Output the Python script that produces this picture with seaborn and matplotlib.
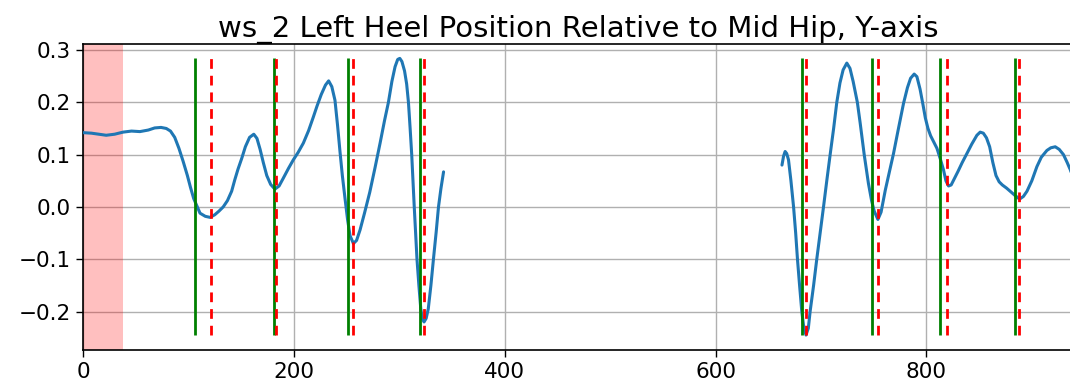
import numpy as np
import pandas as pd
import matplotlib
matplotlib.use("Agg")
import matplotlib.pyplot as plt
import seaborn as sns

# Left heel Y position relative to mid hip, two tracked stretches of frames
frames_a = [0, 8, 15, 22, 30, 38, 46, 54, 62, 68, 74, 79, 83, 87, 91, 95, 99, 102,
            105, 108, 111, 116, 120.5, 125, 129, 133, 137, 141, 144, 147, 150.6,
            154, 158, 162, 165, 168, 171, 174.3, 178, 182, 186, 190, 195, 199.5,
            204, 209, 214, 218.5, 222, 226, 230, 233, 236, 239, 241.5, 243.8, 246,
            248.6, 251, 253.3, 256.5, 259.5, 262.8, 267, 272, 277, 281.8, 286,
            289.7, 293, 296, 298.5, 300.5, 302.5, 305, 307, 308.7, 310.3, 311.8,
            313, 314.2, 315.5, 316.8, 318.6, 320.4, 322, 323.5, 325.5, 327.5, 330,
            332.4, 335, 337.2, 339.5, 342]
heel_a = [0.142, 0.141, 0.139, 0.137, 0.139, 0.143, 0.145, 0.144, 0.147, 0.151,
          0.152, 0.150, 0.145, 0.133, 0.112, 0.087, 0.060, 0.037, 0.016, 0.002,
          -0.012, -0.018, -0.020, -0.015, -0.008, 0.000, 0.012, 0.030, 0.052,
          0.072, 0.093, 0.115, 0.133, 0.139, 0.131, 0.110, 0.085, 0.060, 0.043,
          0.034, 0.040, 0.055, 0.074, 0.090, 0.104, 0.122, 0.146, 0.172, 0.193,
          0.215, 0.233, 0.241, 0.230, 0.204, 0.155, 0.105, 0.060, 0.015, -0.025,
          -0.055, -0.070, -0.064, -0.044, -0.012, 0.028, 0.075, 0.122, 0.165,
          0.200, 0.240, 0.268, 0.282, 0.284, 0.278, 0.260, 0.235, 0.200, 0.150,
          0.100, 0.050, 0.000, -0.050, -0.100, -0.150, -0.195, -0.215, -0.220,
          -0.213, -0.195, -0.150, -0.100, -0.048, 0.000, 0.035, 0.067]

frames_b = [663, 664.5, 666, 667.5, 669.2, 671.5, 674, 676, 677.7, 679.7, 681.8,
            683.8, 685.8, 688, 689.7, 693, 696, 699.2, 702.4, 705.5, 708.7, 712,
            715, 718, 721, 724.5, 727.5, 730.5, 734.5, 737.2, 741, 745, 748, 750.5,
            754, 757, 761, 765, 768.8, 773, 778.3, 782, 785, 788.4, 791, 794,
            796.8, 799, 801.5, 804, 807, 810, 813, 816.2, 818.5, 821, 823.5, 826,
            830, 834, 838.4, 843, 847.9, 851, 854, 857, 860, 863, 866, 869, 872,
            876, 880, 884, 888.4, 892, 895.4, 900, 904.8, 909, 914.3, 918, 922.2,
            926, 930, 933.5, 936.5, 940]
heel_b = [0.080, 0.097, 0.106, 0.102, 0.090, 0.050, 0.000, -0.050, -0.100, -0.150,
          -0.200, -0.232, -0.245, -0.232, -0.200, -0.150, -0.100, -0.050, 0.000,
          0.050, 0.100, 0.150, 0.200, 0.237, 0.262, 0.275, 0.265, 0.240, 0.200,
          0.160, 0.100, 0.045, 0.012, -0.008, -0.024, -0.010, 0.032, 0.068, 0.102,
          0.145, 0.198, 0.228, 0.246, 0.254, 0.249, 0.225, 0.195, 0.170, 0.150,
          0.136, 0.124, 0.112, 0.093, 0.071, 0.050, 0.040, 0.042, 0.052, 0.068,
          0.085, 0.102, 0.120, 0.137, 0.143, 0.141, 0.132, 0.115, 0.085, 0.060,
          0.048, 0.042, 0.036, 0.029, 0.022, 0.015, 0.020, 0.030, 0.050, 0.077,
          0.095, 0.108, 0.113, 0.115, 0.110, 0.100, 0.085, 0.071, 0.050]

# Gait events
heel_strikes = [106, 181, 251, 320, 682, 748, 813, 884]
toe_offs = [121, 183, 256, 323, 686, 754, 820, 888]

# Initial excluded window
excluded = (0, 37.5)

x_ticks = [0, 200, 400, 600, 800]
y_ticks = [-0.2, -0.1, 0.0, 0.1, 0.2, 0.3]
title = "ws_2 Left Heel Position Relative to Mid Hip, Y-axis"

sns.set_style("ticks")
plt.rcParams["font.family"] = ["DejaVu Sans"]
plt.rcParams["text.color"] = "black"
plt.rcParams["xtick.color"] = "black"
plt.rcParams["ytick.color"] = "black"

fig = plt.figure(figsize=(10.7, 3.91), dpi=100)
ax = fig.add_axes([83 / 1070, 41 / 391, 991 / 1070, 306 / 391])

ax.axvspan(*excluded, color="red", alpha=0.25, lw=0, zorder=1)

df_a = pd.DataFrame({"frame": frames_a, "y": heel_a})
df_b = pd.DataFrame({"frame": frames_b, "y": heel_b})
for df in (df_a, df_b):
    sns.lineplot(data=df, x="frame", y="y", ax=ax, color="#1f77b4", lw=2.2,
                 sort=False, estimator=None, zorder=3)

all_y = np.concatenate([heel_a, heel_b])
lo, hi = all_y.min(), all_y.max()
ax.vlines(heel_strikes, lo, hi, colors="green", lw=2.0, zorder=4)
ax.vlines(toe_offs, lo, hi, colors="red", lw=2.0, linestyles=(0, (3.5, 2.5)), zorder=5)

ax.set_xlim(0, 940)
ax.set_ylim(-0.2736, 0.3115)
ax.set_xticks(x_ticks)
ax.set_yticks(y_ticks)
ax.set_yticklabels([f"{t:.1f}".replace("-", "\u2212") for t in y_ticks])
ax.grid(True, color="#b0b0b0", lw=1.0)
ax.set_axisbelow(True)
ax.set_xlabel("")
ax.set_ylabel("")
ax.tick_params(labelsize=15.5, length=5, width=1, color="black", labelcolor="black")
for s in ax.spines.values():
    s.set_color("black")
    s.set_linewidth(1.2)
ax.set_title(title, fontsize=21, pad=5, color="black")

fig.savefig("out.png", dpi=100)
